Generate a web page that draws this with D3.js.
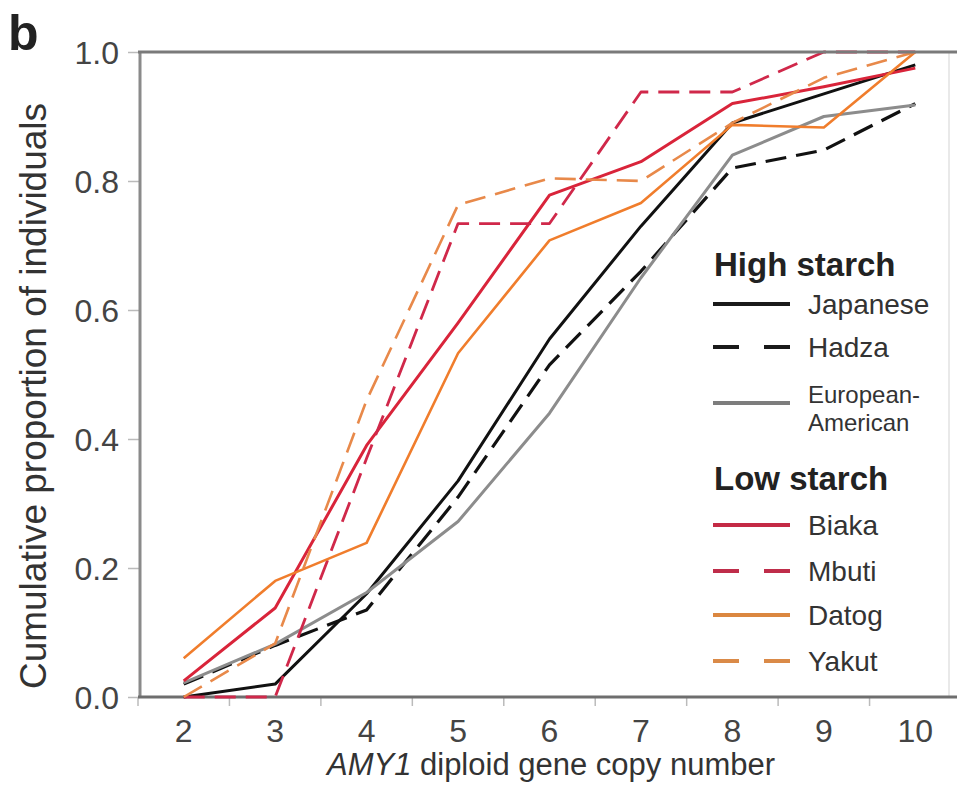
<!DOCTYPE html>
<html>
<head>
<meta charset="utf-8">
<script src="https://cdn.jsdelivr.net/npm/d3@7"></script>
<style>
	body { margin: 0; background: #fff; }
	text { font-family: 'Liberation Sans', Arial, sans-serif; }
</style>
</head>
<body>
<svg width="957" height="785"></svg>
<script>
// AMY1 copy number categories
const copies = [2, 3, 4, 5, 6, 7, 8, 9, 10];
const yTicks = [0, 0.2, 0.4, 0.6, 0.8, 1.0];

// Cumulative proportions
const japanese = [0.0, 0.02, 0.16, 0.335, 0.555, 0.73, 0.89, 0.935, 0.98];
const hadza = [0.02, 0.08, 0.135, 0.31, 0.515, 0.66, 0.82, 0.848, 0.92];
const europeanAmerican = [0.022, 0.082, 0.162, 0.272, 0.44, 0.65, 0.84, 0.9, 0.918];
const biaka = [0.025, 0.138, 0.39, 0.58, 0.778, 0.83, 0.92, 0.946, 0.975];
const mbuti = [0.0, 0.0, 0.37, 0.734, 0.734, 0.938, 0.938, 1.0, 1.0];
const datog = [0.06, 0.18, 0.239, 0.533, 0.708, 0.766, 0.887, 0.883, 1.0];
const yakut = [0.0, 0.083, 0.46, 0.763, 0.804, 0.8, 0.89, 0.96, 1.0];

const groups = [
	{
		title: 'High starch',
		series: [
			{ name: ['Japanese'], values: japanese, color: '#111111', legendColor: '#1a1a1a', dashed: false, width: 3 },
			{ name: ['Hadza'], values: hadza, color: '#111111', legendColor: '#1a1a1a', dashed: true, width: 3.2 },
			{ name: ['European-', 'American'], values: europeanAmerican, color: '#8c8c8c', legendColor: '#7d7d7d', dashed: false, width: 3 },
		],
	},
	{
		title: 'Low starch',
		series: [
			{ name: ['Biaka'], values: biaka, color: '#d9243a', legendColor: '#c42a45', dashed: false, width: 3 },
			{ name: ['Mbuti'], values: mbuti, color: '#d0284a', legendColor: '#bf2d4a', dashed: true, width: 2.8 },
			{ name: ['Datog'], values: datog, color: '#f07d2c', legendColor: '#db8740', dashed: false, width: 2.6 },
			{ name: ['Yakut'], values: yakut, color: '#e8894a', legendColor: '#da8a48', dashed: true, width: 2.6 },
		],
	},
];

const svg = d3.select('svg');

const x = d3.scaleBand().domain(copies).range([138, 961]);
const cx = (d) => x(d) + x.bandwidth() / 2;
const y = d3.scaleLinear().domain([0, 1]).range([697, 52]);

// Panel letter
svg.append('text')
	.attr('x', 8)
	.attr('y', 50)
	.attr('font-size', 50)
	.attr('font-weight', 'bold')
	.attr('fill', '#222')
	.text('b');

// Y axis
const yAxis = svg.append('g')
	.attr('transform', `translate(${x.range()[0] + 2},0)`)
	.call(d3.axisLeft(y).tickValues(yTicks).tickFormat(d3.format('.1f')).tickSize(12).tickPadding(9));
yAxis.select('.domain').remove();
yAxis.selectAll('.tick line').attr('stroke', '#bbb').attr('stroke-width', 1.5);
yAxis.selectAll('.tick text')
	.attr('font-size', 32)
	.attr('fill', '#444')
	.attr('dy', '0.36em');

// X axis labels at band centers, ticks at band edges
const xAxis = svg.append('g').attr('transform', `translate(0,${y(0)})`);
xAxis.selectAll('line')
	.data(copies)
	.enter()
	.append('line')
	.attr('x1', (d) => x(d))
	.attr('x2', (d) => x(d))
	.attr('y1', 0)
	.attr('y2', 9)
	.attr('stroke', '#bbb')
	.attr('stroke-width', 1.5);
xAxis.selectAll('text')
	.data(copies)
	.enter()
	.append('text')
	.attr('x', (d) => cx(d))
	.attr('y', 45)
	.attr('text-anchor', 'middle')
	.attr('font-size', 32)
	.attr('fill', '#444')
	.text((d) => d);

// Frame: left, right, bottom under the lines
svg.append('line')
	.attr('x1', x.range()[0] + 2).attr('x2', x.range()[0] + 2)
	.attr('y1', y(1)).attr('y2', y(0))
	.attr('stroke', '#8a8a8a').attr('stroke-width', 3);
svg.append('line')
	.attr('x1', 949).attr('x2', 949)
	.attr('y1', y(1)).attr('y2', y(0))
	.attr('stroke', '#e2e2e2').attr('stroke-width', 1.5);
svg.append('line')
	.attr('x1', x.range()[0]).attr('x2', 957)
	.attr('y1', y(0)).attr('y2', y(0))
	.attr('stroke', '#6e6e6e').attr('stroke-width', 3);

// Series lines
const line = d3.line()
	.x((d, i) => cx(copies[i]))
	.y((d) => y(d));

const allSeries = groups.flatMap((g) => g.series);
svg.append('g')
	.selectAll('path')
	.data(allSeries)
	.enter()
	.append('path')
	.attr('d', (d) => line(d.values))
	.attr('fill', 'none')
	.attr('stroke', (d) => d.color)
	.attr('stroke-width', (d) => d.width)
	.attr('stroke-linejoin', 'round')
	.attr('stroke-dasharray', (d) => (d.dashed ? '21 10' : null));

// Top frame line drawn last (hides the 1.0 segments)
svg.append('line')
	.attr('x1', x.range()[0]).attr('x2', 957)
	.attr('y1', y(1)).attr('y2', y(1))
	.attr('stroke', '#7a7a7a').attr('stroke-width', 3);

// Axis titles
svg.append('text')
	.attr('x', 551)
	.attr('y', 775)
	.attr('text-anchor', 'middle')
	.attr('font-size', 31)
	.attr('fill', '#333')
	.call((t) => {
		t.append('tspan').attr('font-style', 'italic').text('AMY1');
		t.append('tspan').text(' diploid gene copy number');
	});

svg.append('text')
	.attr('transform', 'translate(46,396) rotate(-90)')
	.attr('text-anchor', 'middle')
	.attr('font-size', 37)
	.attr('fill', '#333')
	.text('Cumulative proportion of individuals');

// Legend: header baselines and row (line) positions
const legendX = 713;
const headerY = [276, 490];
const rowY = [[304, 347, 403], [525, 571, 615, 661]];
const legend = svg.append('g');

groups.forEach((g, gi) => {
	legend.append('text')
		.attr('x', legendX + 1)
		.attr('y', headerY[gi])
		.attr('font-size', 33)
		.attr('font-weight', 'bold')
		.attr('fill', '#222')
		.text(g.title);
	g.series.forEach((s, si) => {
		const ry = rowY[gi][si];
		legend.append('line')
			.attr('x1', legendX)
			.attr('x2', legendX + 77)
			.attr('y1', ry)
			.attr('y2', ry)
			.attr('stroke', s.legendColor)
			.attr('stroke-width', 4)
			.attr('stroke-dasharray', s.dashed ? '26 25' : null);
		// multi-line names share one text element
		const label = legend.append('text')
			.attr('font-size', s.name.length > 1 ? 24 : 28)
			.attr('fill', '#333');
		s.name.forEach((n, i) => {
			label.append('tspan')
				.attr('x', legendX + 95)
				.attr('y', ry + (s.name.length > 1 ? 0 : 10) + i * 28)
				.text(n);
		});
	});
});
</script>
</body>
</html>
